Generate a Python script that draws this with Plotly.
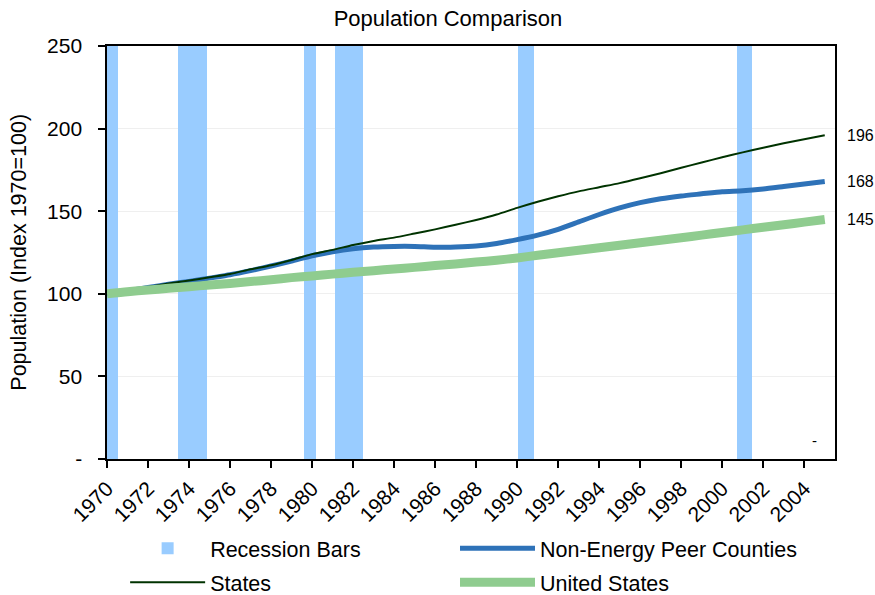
import plotly.graph_objects as go

years = list(range(1970, 2006))

states = [100, 102, 104.2, 106.2, 108, 110, 112, 114.8, 117.3, 120.5,
          124, 126.6, 129.5, 132, 134, 136.5, 139, 141.8, 144.7, 148,
          152, 155.7, 159, 162, 164.5, 167, 169.9, 173, 176.3, 179.5,
          182.6, 185.6, 188.4, 191.1, 193.6, 196]

peer_counties = [100, 101.8, 103.8, 105.8, 107.5, 109.5, 111.5, 114, 116.8, 119.8,
                 123, 125.5, 127.3, 128.3, 128.7, 128.7, 128.2, 128.4, 129, 130.5,
                 132.8, 135.5, 139, 143.5, 148, 152, 155.2, 157.5, 159.2, 160.5,
                 161.8, 162.4, 163.5, 165, 166.5, 168]

united_states = [100, 101.3, 102.3, 103.3, 104.3, 105.3, 106.3, 107.4, 108.5, 109.8,
                 110.8, 111.9, 113.0, 114.0, 115.0, 116.0, 117.1, 118.1, 119.2, 120.3,
                 121.7, 123.3, 124.9, 126.4, 127.9, 129.4, 130.9, 132.4, 133.9, 135.5,
                 137.1, 138.7, 140.3, 141.8, 143.4, 145]

# recession periods (as plotted)
rec_start = [1970.0, 1973.45, 1979.6, 1981.1, 1990.05, 2000.7]
rec_end = [1970.55, 1974.9, 1980.2, 1982.5, 1990.8, 2001.45]
rec_top = 250

x_ticks = list(range(1970, 2005, 2))
y_ticks = [0, 50, 100, 150, 200, 250]
y_labels = ['-', '50', '100', '150', '200', '250']

font = 'Liberation Sans, Arial, sans-serif'
pad = '\u00a0\u00a0'  # keeps the y tick labels a bit further from the axis

fig = go.Figure()

fig.add_trace(go.Bar(
    x=[(s + e) / 2 for s, e in zip(rec_start, rec_end)],
    y=[rec_top] * len(rec_start),
    width=[e - s for s, e in zip(rec_start, rec_end)],
    marker=dict(color='#99ccff', line=dict(width=0)),
    name='Recession Bars', legend='legend', legendgroup='rec', hoverinfo='skip'))

fig.add_trace(go.Scatter(
    x=years, y=peer_counties, mode='lines', name='Non-Energy Peer Counties',
    legend='legend2', legendgroup='peer',
    line=dict(color='#2e72b8', width=5, shape='spline', smoothing=0.6)))

fig.add_trace(go.Scatter(
    x=years, y=states, mode='lines', name='States',
    legend='legend', legendgroup='states',
    line=dict(color='#003300', width=2, shape='spline', smoothing=0.6)))

fig.add_trace(go.Scatter(
    x=years, y=united_states, mode='lines', name='United States',
    legend='legend2', legendgroup='us',
    line=dict(color='#8fcc8f', width=9, shape='spline', smoothing=0.6)))

# end-of-series labels
for val in [states[-1], peer_counties[-1], united_states[-1]]:
    fig.add_annotation(x=years[-1], y=val, text=str(int(round(val))), showarrow=False,
                       xanchor='left', xshift=20, font=dict(size=16, color='black'))
fig.add_annotation(x=2004.5, y=11, text='-', showarrow=False,
                   font=dict(size=15, color='black'))

# y axis title as a rotated annotation (axis title placement was unreliable here)
fig.add_annotation(xref='paper', yref='paper', x=-0.122, y=0.5,
                   text='Population (Index 1970=100)', textangle=-90, showarrow=False,
                   xanchor='center', yanchor='middle', font=dict(size=21.5, color='black'))

leg_common = dict(orientation='v', xref='container', yref='container',
                  y=0.113, xanchor='left', yanchor='top', itemwidth=75,
                  tracegroupgap=3, font=dict(size=21.5), bgcolor='rgba(0,0,0,0)')

fig.update_layout(
    width=875, height=595,
    margin=dict(l=107, r=40, t=46, b=136, autoexpand=False),
    paper_bgcolor='white', plot_bgcolor='white',
    font=dict(family=font, size=21, color='black'),
    title=dict(text='Population Comparison', x=0.512, xanchor='center',
               y=0.97, yanchor='middle', font=dict(size=22)),
    barmode='overlay', bargap=0,
    showlegend=True,
    legend=dict(x=0.143, **leg_common),
    legend2=dict(x=0.52, **leg_common),
)

fig.update_xaxes(range=[1970, 2005.5], tickvals=x_ticks, tickangle=-45,
                 ticks='outside', ticklen=7, tickwidth=2, tickcolor='black',
                 showline=True, linewidth=2, linecolor='black', mirror=True,
                 showgrid=False, zeroline=False, automargin=False,
                 tickfont=dict(size=21))
fig.update_yaxes(range=[0, 250], tickvals=y_ticks, ticktext=[t + pad for t in y_labels],
                 ticks='outside', ticklen=7, tickwidth=2, tickcolor='black',
                 showline=True, linewidth=2, linecolor='black', mirror=True,
                 showgrid=True, gridcolor='#efefef', gridwidth=1, zeroline=False,
                 automargin=False, tickfont=dict(size=21))

# drop the default page margin so the 875x595 figure fills the window exactly
fig.write_html("out.html", config={'displayModeBar': False},
               post_script="document.body.style.margin='0';document.body.style.overflow='hidden';")
